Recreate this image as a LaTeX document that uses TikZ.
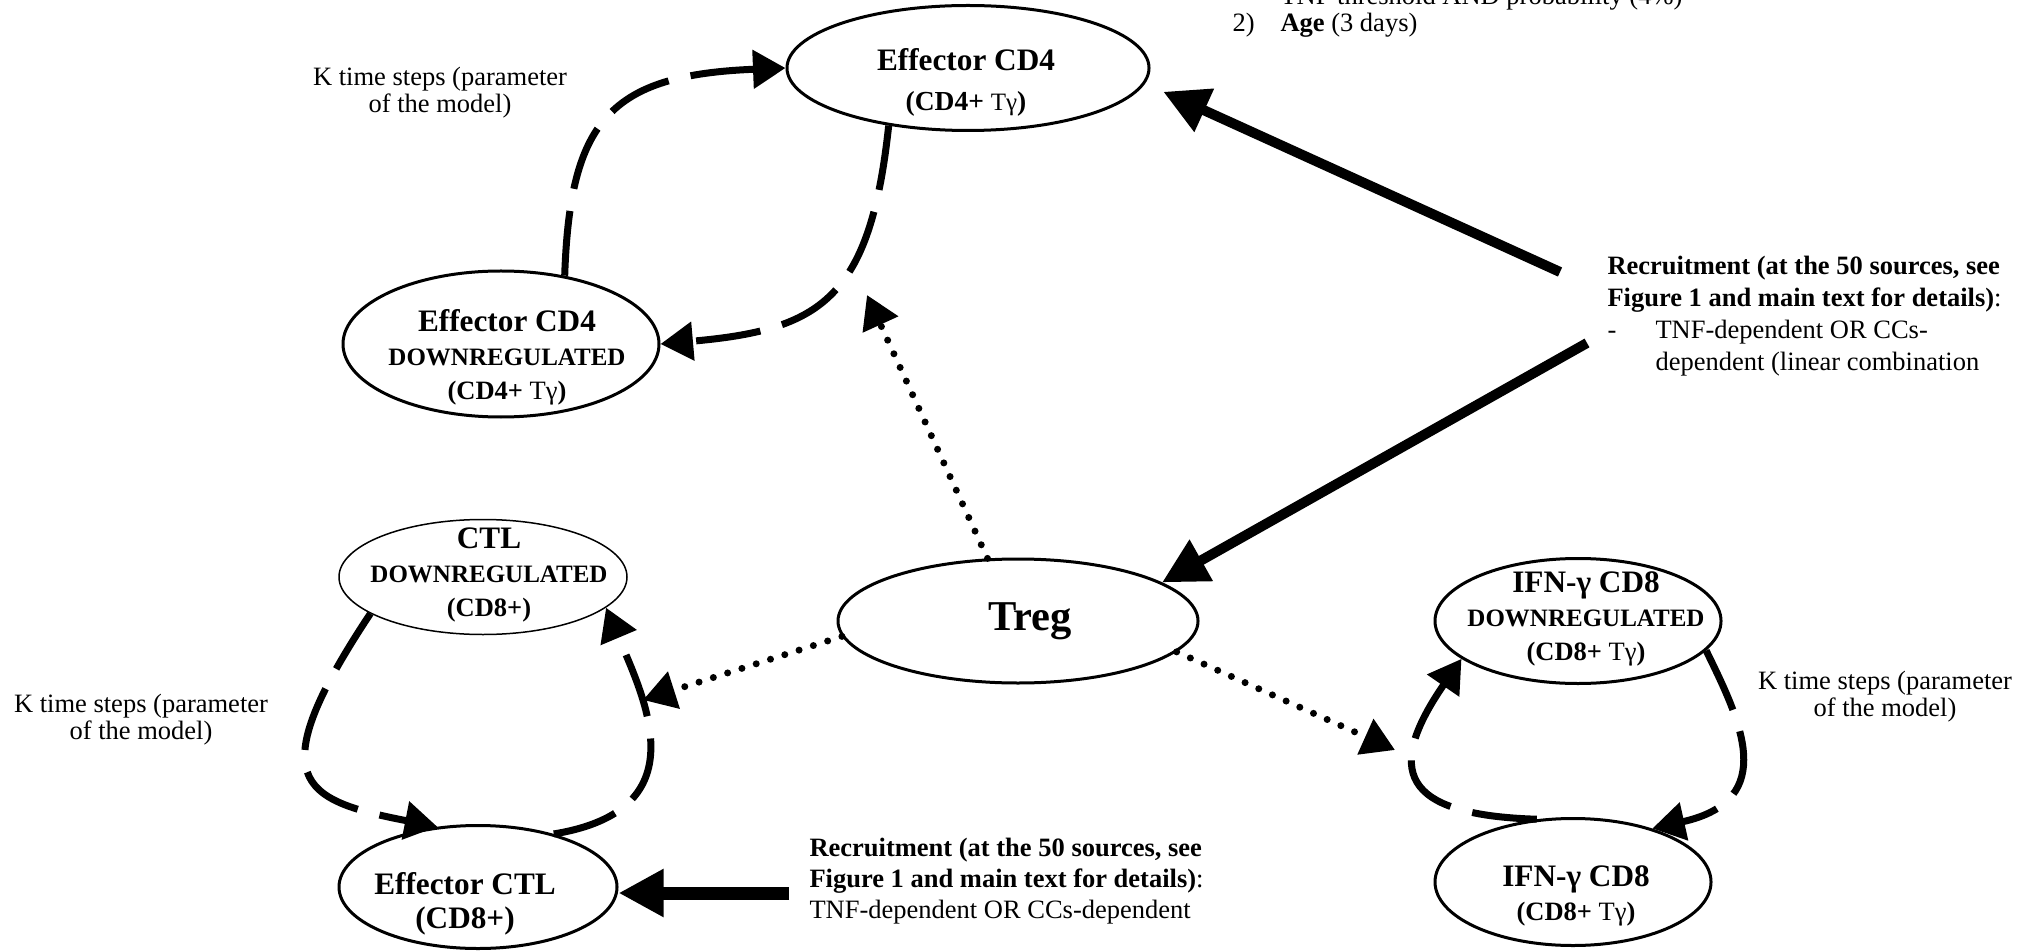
\documentclass[tikz,border=0pt]{standalone}
\usepackage{fontspec}
\setmainfont{Liberation Serif}
\usetikzlibrary{arrows.meta,shapes.geometric}
\newcommand{\namesize}{\fontsize{12.5}{13.6}\selectfont}
\newcommand{\tagsize}{\fontsize{10}{12}\selectfont}
\newcommand{\subsize}{\fontsize{10.6}{12}\selectfont}
\newcommand{\notesize}{\fontsize{10.6}{10.8}\selectfont}
\begin{document}
\begin{tikzpicture}[x=0.4pt, y=-0.4pt,
    cell/.style={draw, ellipse, line width=1.2pt, inner sep=0pt},
    lbl/.style={align=center, inner sep=0pt, font=\bfseries\namesize},
    note/.style={align=center, inner sep=0pt, font=\notesize},
    kstep/.style={line width=2.8pt, dash pattern=on 26pt off 9pt, -{Triangle[length=13pt,width=15pt]}},
    supp/.style={line width=2.8pt, line cap=round, dash pattern=on 0pt off 6pt, -{Triangle[length=13pt,width=15pt]}},
    recruit/.style={line width=4pt, -{Triangle[length=18pt,width=18pt]}}]
    \useasboundingbox (0,0) rectangle (2030,951);
    \clip (0,0) rectangle (2030,951);

    \node[cell, minimum width=144.8pt, minimum height=50pt] (cd4) at (968,68) {};
    \node[cell, minimum width=126.4pt, minimum height=58.4pt] (cd4down) at (501,344) {};
    \node[cell, line width=0.6pt, minimum width=115.2pt, minimum height=46pt] (ctldown) at (483,577) {};
    \node[cell, minimum width=144pt, minimum height=49.6pt] (treg) at (1018,621) {};
    \node[cell, minimum width=114.4pt, minimum height=50pt] (ifndown) at (1578,621) {};
    \node[cell, minimum width=111.2pt, minimum height=49.2pt] (ctl) at (478,887) {};
    \node[cell, minimum width=110.4pt, minimum height=50.8pt] (ifn) at (1573,882) {};

    \node[lbl] (cd4-txt) at (966,82) {Effector CD4\\[2.4pt]{\fontsize{11}{12}\selectfont(CD4+ {\mdseries\tagsize Tγ})}};
    \node[lbl] (cd4down-txt) at (507,357) {Effector CD4\\{\tagsize DOWNREGULATED}\\{\subsize(CD4+ {\mdseries Tγ})}};
    \node[lbl] (ctldown-txt) at (489,575) {CTL\\{\tagsize DOWNREGULATED}\\{\subsize(CD8+)}};
    \node[lbl, font=\bfseries\fontsize{17}{20}\selectfont] (treg-txt) at (1030,621) {Treg};
    \node[lbl] (ifndown-txt) at (1586,619) {IFN-γ CD8\\{\tagsize DOWNREGULATED}\\{\subsize(CD8+ {\mdseries Tγ})}};
    \node[lbl] (ctl-txt) at (465,904) {Effector CTL\\(CD8+)};
    \node[lbl] (ifn-txt) at (1576,896) {IFN-γ CD8\\{\subsize(CD8+ {\mdseries Tγ})}};

    \draw[kstep] (cd4down.47) .. controls (570,120) and (610,75) .. (cd4.west);
    \draw[kstep] (cd4.216) .. controls (870,300) and (820,330) .. (cd4down.east);
    \draw[kstep] (ctldown.198) .. controls (260,780) and (300,800) .. (ctl.124);
    \draw[kstep] (ctl.35) .. controls (700,810) and (645,700) .. (ctldown.346);
    \draw[kstep] (ifn.120) .. controls (1400,815) and (1385,770) .. (ifndown.198);
    \draw[kstep] (ifndown.347) .. controls (1740,720) and (1780,800) .. (ifn.34);

    \coordinate (src-cd4) at (1560,272);
    \coordinate (src-treg) at (1587,343);
    \coordinate (src-ctl) at (789,893);
    \coordinate (hit-cd4) at (867,295);
    \coordinate (hit-ctl) at (643,700);
    \coordinate (hit-ifn) at (1395,750);

    \draw[recruit, shorten >=8pt] (src-cd4) -- (cd4.355);
    \draw[recruit] (src-treg) -- (treg.15);
    \draw[recruit, line width=5.2pt] (src-ctl) -- (src-ctl -| ctl.east);

    \draw[supp] (treg.116) -- (hit-cd4);
    \draw[supp] (treg.185) -- (hit-ctl);
    \draw[supp] (treg.349) -- (hit-ifn);

    \node[note] (k-cd4) at (440,93) {K time steps (parameter\\of the model)};
    \node[note] (k-ctl) at (141,720) {K time steps (parameter\\of the model)};
    \node[note] (k-ifn) at (1885,697) {K time steps (parameter\\of the model)};

    \node[note, align=left, anchor=north west] (rec-txt) at (1607,256) {\textbf{Recruitment (at the 50 sources, see}\\[2pt]\textbf{Figure 1 and main text for details)}:\\[2pt]\makebox[19.2pt][l]{-}TNF-dependent OR CCs-\\[2pt]\hspace*{19.2pt}dependent (linear combination};
    \node[note, align=left, anchor=north west] (rec-ctl-txt) at (809,838) {\textbf{Recruitment (at the 50 sources, see}\\[1.6pt]\textbf{Figure 1 and main text for details)}:\\[1.6pt]TNF-dependent OR CCs-dependent};
    \node[note, align=left, anchor=south west] (age-txt) at (1232,38) {\hspace*{19.2pt}TNF threshold AND probability (4\%)\\\makebox[19.2pt][l]{2)}\textbf{Age} (3 days)};
\end{tikzpicture}
\end{document}
